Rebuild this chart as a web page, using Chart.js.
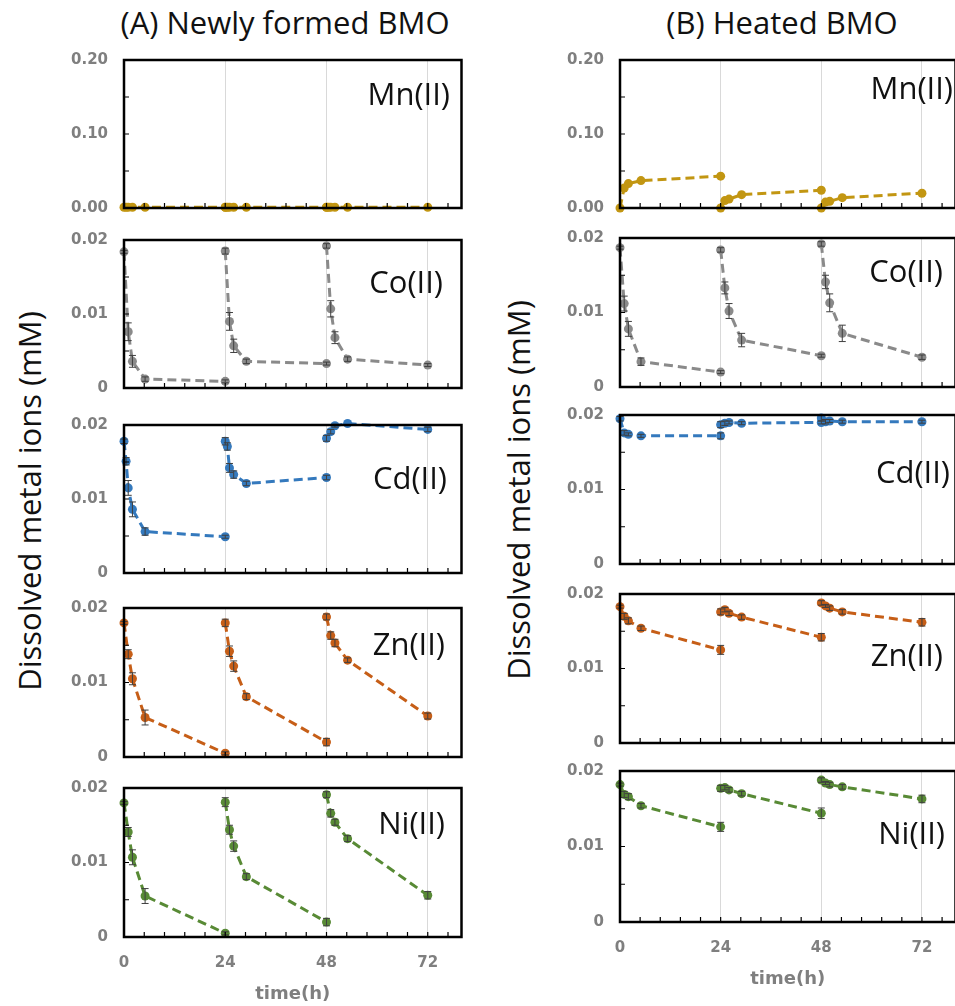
<!DOCTYPE html>
<html>
<head>
<meta charset="utf-8">
<script src="https://cdn.jsdelivr.net/npm/chart.js@4.4.1/dist/chart.umd.min.js"></script>
<style>
  html, body { margin: 0; padding: 0; background: #fff; overflow: hidden; }
  body { width: 955px; height: 1006px; position: relative; }
  canvas { position: absolute; }
  .txt { position: absolute; font-family: 'Open Sans', sans-serif; color: #111; white-space: nowrap; line-height: 1; }
  .col-title { font-size: 31px; transform: translate(-50%, -50%); }
  .y-title { font-size: 31px; transform: translate(-50%, -50%) rotate(-90deg); }
  .metal { font-size: 31px; transform: translate(-100%, -50%); }
</style>
</head>
<body>
<div class="txt col-title" style="left:285px; top:22px">(A) Newly formed BMO</div>
<div class="txt col-title" style="left:782px; top:22px">(B) Heated BMO</div>
<div class="txt y-title" style="left:29px; top:501px">Dissolved metal ions (mM)</div>
<div class="txt y-title" style="left:518px; top:490px">Dissolved metal ions (mM)</div>

<script>
document.addEventListener('DOMContentLoaded', function() {
    // Sampling times within each 24 h cycle, and the start of each cycle
    const hours = [0, 0.5, 1, 2, 5, 24];
    const cycleStart = [0, 24, 48];

    const xTicks = [0, 24, 48, 72];
    const mnTicks = [0, 0.1, 0.2];
    const ionTicks = [0, 0.01, 0.02];

    // (A) Newly formed BMO, mM, one row per cycle (null = not sampled)
    const mnNew = [
        [0.001, 0.001, 0.001, 0.001, 0.001, 0.001],
        [0.001, 0.001, 0.001, 0.001, 0.001, 0.001],
        [0.001, 0.001, 0.001, 0.001, 0.001, 0.001]
    ];
    const coNew = [
        [0.0184, null, 0.0076, 0.0036, 0.0012, 0.0009],
        [0.0185, null, 0.0090, 0.0057, 0.0036, 0.0033],
        [0.0192, null, 0.0107, 0.0068, 0.0039, 0.0031]
    ];
    const coNewErr = [
        [0.0002, 0, 0.0012, 0.0008, 0.0003, 0.0002],
        [0.0004, 0, 0.0012, 0.0009, 0.0003, 0.0002],
        [0.0003, 0, 0.0011, 0.0008, 0.0003, 0.0002]
    ];
    const cdNew = [
        [0.0178, 0.0151, 0.0115, 0.0086, 0.0056, 0.0049],
        [0.0178, 0.0171, 0.0142, 0.0133, 0.0121, 0.0129],
        [0.0182, null, 0.0191, 0.0199, 0.0202, 0.0194]
    ];
    const cdNewErr = [
        [0.0003, 0.0005, 0.0010, 0.0010, 0.0005, 0.0002],
        [0.0005, 0.0005, 0.0006, 0.0005, 0.0003, 0.0003],
        [0.0004, 0, 0.0003, 0.0002, 0, 0.0003]
    ];
    const znNew = [
        [0.0180, null, 0.0138, 0.0105, 0.0053, 0.0005],
        [0.0180, null, 0.0142, 0.0122, 0.0081, 0.0020],
        [0.0188, null, 0.0163, 0.0153, 0.0130, 0.0055]
    ];
    const znNewErr = [
        [0.0002, 0, 0.0006, 0.0008, 0.0010, 0.0002],
        [0.0005, 0, 0.0007, 0.0007, 0.0004, 0.0005],
        [0.0004, 0, 0.0005, 0.0005, 0.0003, 0.0004]
    ];
    const niNew = [
        [0.0180, null, 0.0141, 0.0107, 0.0055, 0.0005],
        [0.0181, null, 0.0144, 0.0122, 0.0081, 0.0020],
        [0.0191, null, 0.0166, 0.0154, 0.0132, 0.0056]
    ];
    const niNewErr = [
        [0.0002, 0, 0.0006, 0.0010, 0.0010, 0.0002],
        [0.0006, 0, 0.0006, 0.0007, 0.0004, 0.0005],
        [0.0004, 0, 0.0005, 0.0004, 0.0004, 0.0005]
    ];

    // (B) Heated BMO
    const mnHeat = [
        [0.000, null, 0.027, 0.033, 0.037, 0.043],
        [0.000, null, 0.010, 0.012, 0.018, 0.024],
        [0.000, null, 0.008, 0.009, 0.014, 0.020]
    ];
    const coHeat = [
        [0.0187, null, 0.0112, 0.0078, 0.0034, 0.0020],
        [0.0184, null, 0.0133, 0.0102, 0.0063, 0.0042],
        [0.0192, null, 0.0141, 0.0113, 0.0072, 0.0040]
    ];
    const coHeatErr = [
        [0.0002, 0, 0.0010, 0.0010, 0.0005, 0.0002],
        [0.0003, 0, 0.0008, 0.0010, 0.0009, 0.0002],
        [0.0003, 0, 0.0009, 0.0012, 0.0011, 0.0003]
    ];
    const cdHeat = [
        [0.0195, null, 0.0176, 0.0174, 0.0172, 0.0172],
        [0.0187, null, 0.0189, 0.0190, 0.0189, 0.0190],
        [0.0196, null, 0.0191, 0.0192, 0.0191, 0.0191]
    ];
    const cdHeatErr = [
        [0.0003, 0, 0.0003, 0.0002, 0.0002, 0.0004],
        [0.0004, 0, 0.0003, 0.0002, 0.0002, 0.0002],
        [0.0004, 0, 0.0003, 0.0002, 0.0002, 0.0002]
    ];
    const znHeat = [
        [0.0183, null, 0.0170, 0.0164, 0.0154, 0.0125],
        [0.0176, null, 0.0179, 0.0174, 0.0169, 0.0142],
        [0.0188, null, 0.0184, 0.0181, 0.0176, 0.0162]
    ];
    const znHeatErr = [
        [0.0002, 0, 0.0004, 0.0004, 0.0003, 0.0006],
        [0.0004, 0, 0.0003, 0.0003, 0.0003, 0.0005],
        [0.0003, 0, 0.0002, 0.0003, 0.0003, 0.0005]
    ];
    const niHeat = [
        [0.0182, null, 0.0169, 0.0166, 0.0154, 0.0126],
        [0.0177, null, 0.0178, 0.0175, 0.0170, 0.0144],
        [0.0188, null, 0.0184, 0.0182, 0.0179, 0.0163]
    ];
    const niHeatErr = [
        [0.0002, 0, 0.0004, 0.0004, 0.0003, 0.0006],
        [0.0004, 0, 0.0003, 0.0003, 0.0003, 0.0007],
        [0.0003, 0, 0.0002, 0.0003, 0.0003, 0.0005]
    ];
    const noErr = [[0, 0, 0, 0, 0, 0], [0, 0, 0, 0, 0, 0], [0, 0, 0, 0, 0, 0]];

    const metalColors = { Mn: '#c29612', Co: '#8a8a8a', Cd: '#3479bd', Zn: '#c65e17', Ni: '#588a35' };

    // Page geometry of the two columns of plot areas
    const columns = [
        { canvasLeft: 50, plotLeft: 124, plotRight: 462,
          tops: [60, 240, 425, 608, 788], bottoms: [208, 388, 573, 757, 937],
          labelRight: [450, 443, 447, 445, 445], labelY: [93, 281, 477, 643, 822] },
        { canvasLeft: 545, plotLeft: 620, plotRight: 956,
          tops: [60, 238, 415, 594, 771], bottoms: [208, 387, 564, 743, 922],
          labelRight: [953, 943, 950, 943, 945], labelY: [87, 270, 471, 654, 832] }
    ];

    const panels = [
        [['Mn', mnNew, noErr], ['Co', coNew, coNewErr], ['Cd', cdNew, cdNewErr], ['Zn', znNew, znNewErr], ['Ni', niNew, niNewErr]],
        [['Mn', mnHeat, noErr], ['Co', coHeat, coHeatErr], ['Cd', cdHeat, cdHeatErr], ['Zn', znHeat, znHeatErr], ['Ni', niHeat, niHeatErr]]
    ];

    const tickFont = { family: 'DejaVu Sans', size: 15, weight: 'bold' };
    const tickColor = '#7f7f7f';

    // Vertical error bars with small caps
    const errorBars = {
        id: 'errorBars',
        afterDatasetsDraw(chart) {
            const ctx = chart.ctx;
            const yScale = chart.scales.y;
            ctx.save();
            ctx.strokeStyle = '#3f3f3f';
            ctx.lineWidth = 1;
            chart.data.datasets.forEach((ds, d) => {
                const meta = chart.getDatasetMeta(d);
                ds.data.forEach((p, i) => {
                    const e = ds.errors[i];
                    if (p.y === null || !e) return;
                    const px = meta.data[i].x;
                    const top = yScale.getPixelForValue(p.y + e);
                    const bot = yScale.getPixelForValue(p.y - e);
                    ctx.beginPath();
                    ctx.moveTo(px, top); ctx.lineTo(px, bot);
                    ctx.moveTo(px - 3.5, top); ctx.lineTo(px + 3.5, top);
                    ctx.moveTo(px - 3.5, bot); ctx.lineTo(px + 3.5, bot);
                    ctx.stroke();
                });
            });
            ctx.restore();
        }
    };

    // Black plot frame with inward tick marks
    const frame = {
        id: 'frame',
        afterDraw(chart, args, opts) {
            const ctx = chart.ctx;
            const a = chart.chartArea;
            const xs = chart.scales.x, ys = chart.scales.y;
            ctx.save();
            ctx.strokeStyle = '#000';
            ctx.lineWidth = 1.2;
            ctx.beginPath();
            for (let i = 1; i <= 16; i++) {
                const px = xs.getPixelForValue(i * 4.8);
                ctx.moveTo(px, a.bottom); ctx.lineTo(px, a.bottom - 5);
            }
            for (let i = 1; i < 4; i++) {
                const py = ys.getPixelForValue(i * opts.yStep);
                ctx.moveTo(a.left, py); ctx.lineTo(a.left + 5, py);
            }
            ctx.stroke();
            ctx.lineWidth = 2.5;
            ctx.strokeRect(a.left, a.top, a.right - a.left, a.bottom - a.top);
            ctx.restore();
        }
    };

    function drawPanel(colIdx, rowIdx) {
        const col = columns[colIdx];
        const [metal, series, errs] = panels[colIdx][rowIdx];
        const isMn = metal === 'Mn';
        const isBottom = rowIdx === 4;
        const color = metalColors[metal];
        // room for the y tick labels that overhang the plot (label half height + tick padding)
        const padTop = 30;
        const xHeight = isBottom ? 70 : 30;
        const canvasTop = col.tops[rowIdx] - padTop;
        const canvasHeight = col.bottoms[rowIdx] - canvasTop + xHeight;
        const canvasWidth = col.plotRight + 4 - col.canvasLeft;

        const canvas = document.createElement('canvas');
        canvas.width = canvasWidth;
        canvas.height = canvasHeight;
        canvas.style.left = col.canvasLeft + 'px';
        canvas.style.top = canvasTop + 'px';
        document.body.appendChild(canvas);

        const datasets = series.map((vals, c) => ({
            data: vals.map((v, i) => ({ x: cycleStart[c] + hours[i], y: v })),
            errors: errs[c],
            borderColor: color,
            backgroundColor: color,
            borderWidth: 3,
            borderDash: [9, 5],
            pointRadius: 4.5,
            pointHoverRadius: 4.5,
            pointBorderWidth: 0,
            spanGaps: true,
            clip: false
        }));

        const yTicks = isMn ? mnTicks : ionTicks;

        new Chart(canvas.getContext('2d'), {
            type: 'line',
            data: { datasets },
            options: {
                responsive: false,
                animation: false,
                events: [],
                layout: { padding: { top: padTop, right: 4, left: 0, bottom: 0 } },
                plugins: {
                    legend: { display: false },
                    tooltip: { enabled: false },
                    frame: { yStep: isMn ? 0.05 : 0.005 }
                },
                scales: {
                    x: {
                        type: 'linear',
                        min: 0,
                        max: 80,
                        afterBuildTicks: s => { s.ticks = xTicks.map(v => ({ value: v })); },
                        afterFit: s => { s.height = xHeight; },
                        grid: {
                            color: c => c.tick && c.tick.value === 0 ? 'rgba(0,0,0,0)' : '#d9d9d9',
                            lineWidth: 1,
                            drawTicks: false
                        },
                        border: { display: false },
                        ticks: { display: isBottom, font: tickFont, color: tickColor, padding: 17, maxRotation: 0 },
                        title: {
                            display: isBottom,
                            text: 'time(h)',
                            font: { family: 'DejaVu Sans', size: 18, weight: 'bold' },
                            color: tickColor,
                            padding: { top: 0, bottom: 2 }
                        }
                    },
                    y: {
                        min: 0,
                        max: isMn ? 0.2 : 0.02,
                        afterBuildTicks: s => { s.ticks = yTicks.map(v => ({ value: v })); },
                        afterFit: s => { s.width = col.plotLeft - col.canvasLeft; },
                        grid: { display: false, drawTicks: false },
                        border: { display: false },
                        ticks: {
                            font: tickFont,
                            color: tickColor,
                            padding: 16,
                            callback: v => isMn ? v.toFixed(2) : (v === 0 ? '0' : v.toFixed(2))
                        }
                    }
                }
            },
            plugins: [errorBars, frame]
        });

        // Metal name in the upper right of the plot
        const label = document.createElement('div');
        label.className = 'txt metal';
        label.textContent = metal + '(II)';
        label.style.left = col.labelRight[rowIdx] + 'px';
        label.style.top = col.labelY[rowIdx] + 'px';
        document.body.appendChild(label);
    }

    for (let c = 0; c < 2; c++) {
        for (let r = 0; r < 5; r++) drawPanel(c, r);
    }
});
</script>
</body>
</html>
